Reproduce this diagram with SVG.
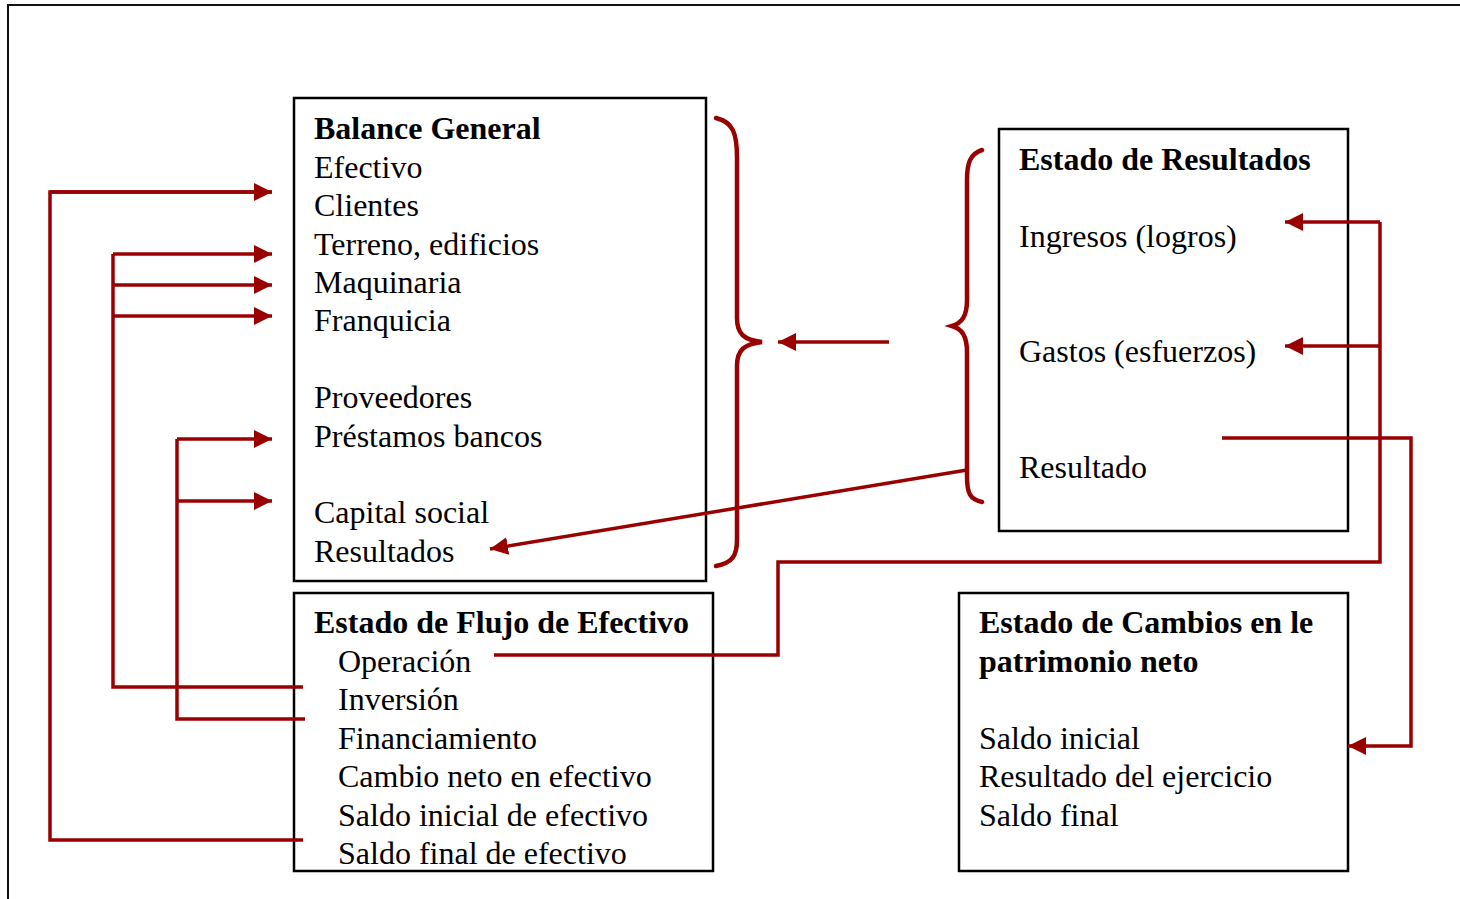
<svg xmlns="http://www.w3.org/2000/svg" width="1460" height="899" viewBox="0 0 1460 899">
<style>
.box{fill:#fff;stroke:#000;stroke-width:2.5}
.t{font-family:"Liberation Serif","Times New Roman",serif;font-size:32px;fill:#000}
.b{font-weight:bold}
.c{fill:none;stroke:#990000;stroke-width:3.5;stroke-linejoin:miter}
.br{fill:none;stroke:#990000;stroke-width:4.5;stroke-linecap:round}
.a{marker-end:url(#ah)}
</style>
<defs>
<marker id="ah" markerUnits="userSpaceOnUse" markerWidth="18" markerHeight="18" refX="16" refY="8" orient="auto" viewBox="0 0 16 16">
<path d="M0,0 L16,8 L0,16 Z" fill="#990000"/>
</marker>
</defs>
<rect width="1460" height="899" fill="#fff"/>
<g id="frame">
<path d="M8,899 L8,5 L1460,5" fill="none" stroke="#111" stroke-width="2"/>
</g>
<g id="balance">
<rect class="box" x="294" y="98" width="412" height="483"/>
<text class="t b" x="314" y="139">Balance General</text>
<text class="t" x="314" y="178">Efectivo</text>
<text class="t" x="314" y="216">Clientes</text>
<text class="t" x="314" y="255">Terreno, edificios</text>
<text class="t" x="314" y="293">Maquinaria</text>
<text class="t" x="314" y="331">Franquicia</text>
<text class="t" x="314" y="408">Proveedores</text>
<text class="t" x="314" y="447">Préstamos bancos</text>
<text class="t" x="314" y="523">Capital social</text>
<text class="t" x="314" y="562">Resultados</text>
</g>
<g id="flujo">
<rect class="box" x="294" y="593" width="419" height="278"/>
<text class="t b" x="314" y="633">Estado de Flujo de Efectivo</text>
<text class="t" x="338" y="672">Operación</text>
<text class="t" x="338" y="710">Inversión</text>
<text class="t" x="338" y="749">Financiamiento</text>
<text class="t" x="338" y="787">Cambio neto en efectivo</text>
<text class="t" x="338" y="826">Saldo inicial de efectivo</text>
<text class="t" x="338" y="864">Saldo final de efectivo</text>
</g>
<g id="resultados">
<rect class="box" x="999" y="129" width="349" height="402"/>
<text class="t b" x="1019" y="170">Estado de Resultados</text>
<text class="t" x="1019" y="247">Ingresos (logros)</text>
<text class="t" x="1019" y="362">Gastos (esfuerzos)</text>
<text class="t" x="1019" y="478">Resultado</text>
</g>
<g id="cambios">
<rect class="box" x="959" y="593" width="389" height="278"/>
<text class="t b" x="979" y="633">Estado de Cambios en le</text>
<text class="t b" x="979" y="672">patrimonio neto</text>
<text class="t" x="979" y="749">Saldo inicial</text>
<text class="t" x="979" y="787">Resultado del ejercicio</text>
<text class="t" x="979" y="826">Saldo final</text>
</g>
<g id="connectors">
<path class="br" d="M716,118 C733,122 737,133 737,158 L737,318 C737,334 744,340 762,342 C744,344 737,350 737,366 L737,540 C737,556 732,563 716,566"/>
<path class="br" d="M982,150 C970,154 967,163 967,180 L967,300 C967,316 962,323 952,326 C962,329 967,336 967,352 L967,476 C967,494 970,499 982,502"/>
<path class="c" d="M303,840 L50,840 L50,192 L272,192"/>
<path class="c a" d="M50,192 L272,192"/>
<path class="c" d="M303,687 L113,687 L113,254"/>
<path class="c a" d="M113,254 L272,254"/>
<path class="c a" d="M113,285 L272,285"/>
<path class="c a" d="M113,316 L272,316"/>
<path class="c" d="M305,719 L177,719 L177,439"/>
<path class="c a" d="M177,439 L272,439"/>
<path class="c a" d="M177,501 L272,501"/>
<path class="c" d="M494,655 L778,655 L778,562 L1380,562 L1380,222"/>
<path class="c a" d="M1380,222 L1285,222"/>
<path class="c a" d="M1380,346 L1285,346"/>
<path class="c a" d="M1222,438 L1411,438 L1411,746 L1348,746"/>
<path class="c a" d="M889,342 L778,342"/>
<path class="c a" d="M967,470 L490,549"/>
</g>
</svg>
